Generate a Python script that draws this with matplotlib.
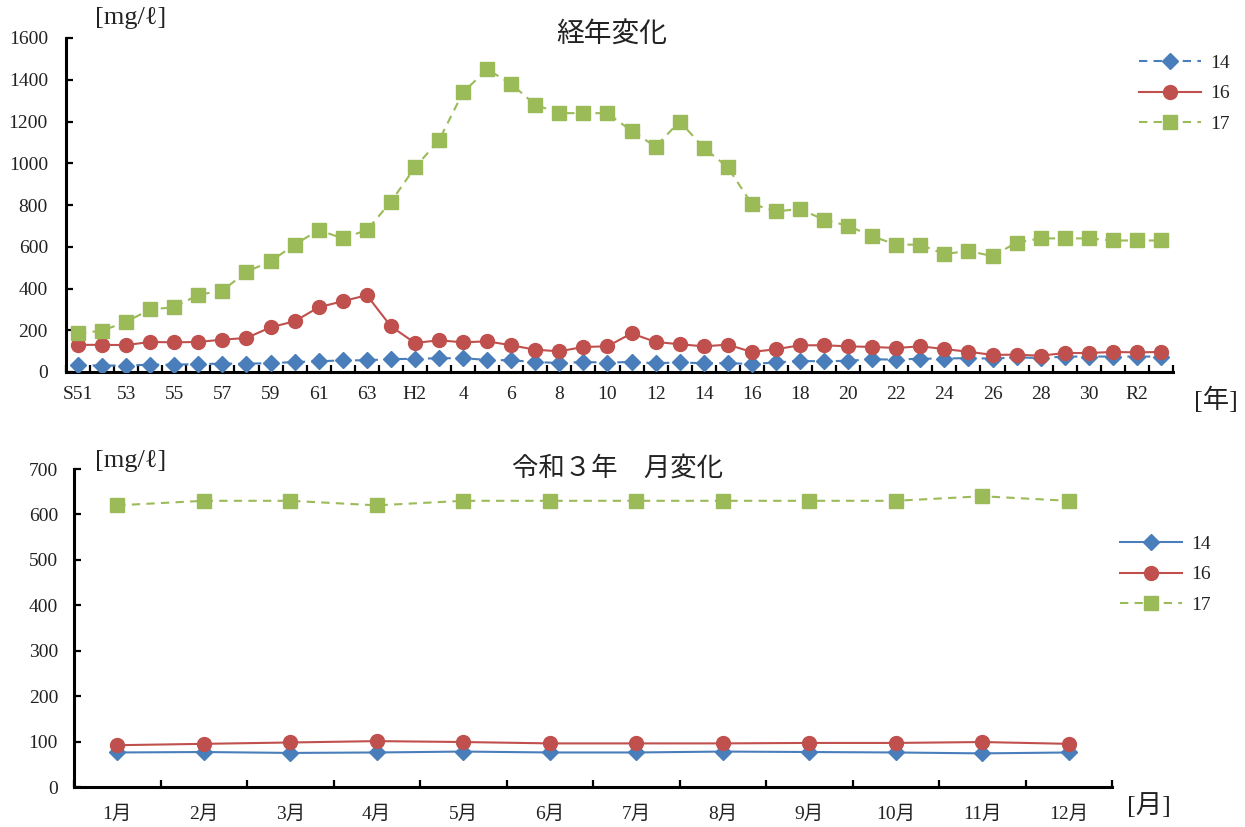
import matplotlib
matplotlib.use("Agg")
import matplotlib.pyplot as plt
from matplotlib.ticker import FixedLocator

plt.rcParams['font.family'] = ['Liberation Serif', 'DejaVu Serif', 'Noto Sans CJK JP']

# ---- annual data (S51 .. R3) ----
year_labels = ['S51', '53', '55', '57', '59', '61', '63', 'H2', '4', '6', '8', '10',
               '12', '14', '16', '18', '20', '22', '24', '26', '28', '30', 'R2']
years_s14 = [32, 31, 31, 35, 35, 38, 40, 40, 42, 48, 51, 56, 56, 62, 63, 66, 66, 58, 56, 48,
             43, 48, 45, 48, 42, 46, 42, 43, 38, 46, 53, 51, 54, 61, 59, 64, 64, 67, 64, 70,
             67, 74, 74, 74, 74, 74]
years_s16 = [130, 130, 129, 144, 142, 144, 155, 163, 214, 243, 310, 339, 368, 219, 139, 152,
             142, 147, 128, 107, 99, 120, 123, 185, 144, 133, 123, 131, 96, 109, 128, 128,
             123, 120, 115, 123, 110, 97, 82, 83, 78, 91, 91, 96, 94, 96]
years_s17 = [185, 198, 240, 300, 310, 370, 390, 480, 530, 610, 680, 640, 680, 815, 980, 1110,
             1340, 1450, 1380, 1280, 1240, 1240, 1240, 1155, 1080, 1200, 1075, 980, 805, 770,
             780, 730, 700, 650, 610, 610, 565, 580, 555, 620, 640, 640, 640, 630, 630, 630]

# ---- monthly data (R3) ----
months = ['1月', '2月', '3月', '4月', '5月', '6月', '7月', '8月', '9月', '10月', '11月', '12月']
month_s14 = [76, 77, 75, 76, 78, 76, 76, 78, 77, 76, 74, 76]
month_s16 = [92, 95, 98, 101, 99, 96, 96, 96, 97, 97, 99, 95]
month_s17 = [620, 630, 630, 620, 630, 630, 630, 630, 630, 630, 640, 630]
series_names = ['14', '16', '17']

BLUE = '#4A7EBB'
RED = '#C0504D'
GREEN = '#9BBB59'
TXT = '#222222'
MIXED = ['Liberation Serif', 'Noto Sans CJK JP']

W, H = 1245, 827
fig = plt.figure(figsize=(W / 100, H / 100), dpi=100)


def px_axes(left, top, right, bottom):
    return fig.add_axes([left / W, 1 - bottom / H, (right - left) / W, (bottom - top) / H])


def style_axes(ax, n):
    for s in ('top', 'right'):
        ax.spines[s].set_visible(False)
    for s in ('left', 'bottom'):
        ax.spines[s].set_linewidth(2.2)
        ax.spines[s].set_color('black')
    ax.set_xlim(-0.5, n - 0.5)
    ax.xaxis.set_minor_locator(FixedLocator([i - 0.5 for i in range(n + 1)]))
    ax.tick_params(axis='x', which='major', length=0, labelsize=14, labelcolor=TXT)
    ax.tick_params(axis='x', which='minor', direction='in', length=5, width=1.6, color='black')
    ax.tick_params(axis='y', direction='in', length=5, width=1.6, labelsize=14,
                   labelcolor=TXT, color='black')


def add_legend(ax, anchor):
    leg = ax.legend(loc='upper left', bbox_to_anchor=anchor, frameon=False,
                    fontsize=14, handlelength=3.2, labelspacing=0.68, handletextpad=0.45,
                    borderaxespad=0, borderpad=0)
    for t in leg.get_texts():
        t.set_color(TXT)
    return leg


# ---- upper chart: annual change ----
ax1 = px_axes(66, 38, 1173, 372)
n1 = len(years_s17)
x1 = list(range(n1))
ax1.plot(x1, years_s14, color=BLUE, lw=1.5, ls=(0, (4, 3)), marker='D', ms=8.5,
         mfc=BLUE, mec=BLUE, label=series_names[0], zorder=3)
ax1.plot(x1, years_s16, color=RED, lw=1.5, ls='-', marker='o', ms=10,
         mfc=RED, mec=RED, label=series_names[1], zorder=4)
ax1.plot(x1, years_s17, color=GREEN, lw=1.5, ls=(0, (4, 3)), marker='s', ms=10,
         mfc=GREEN, mec=GREEN, label=series_names[2], zorder=5)
ax1.set_ylim(0, 1600)
ax1.set_yticks(range(0, 1601, 200))
ax1.set_xticks(range(0, n1, 2))
ax1.set_xticklabels(year_labels)
style_axes(ax1, n1)
ax1.tick_params(axis='y', pad=13)
ax1.tick_params(axis='x', which='major', pad=10)
add_legend(ax1, ((1139 - 66) / 1107, (372 - 54) / 334))
fig.text(612 / W, 1 - 34 / H, '経年変化', fontsize=20, ha='center', va='center',
         color=TXT, family=['Noto Sans CJK JP'])
fig.text(131 / W, 1 - 18 / H, '[mg/ℓ]', fontsize=19, ha='center', va='center', color=TXT)
fig.text(1216 / W, 1 - 400 / H, '[年]', fontsize=19, ha='center', va='center', color=TXT,
         family=MIXED)

# ---- lower chart: monthly change ----
ax2 = px_axes(74, 469, 1112, 787)
n2 = len(months)
x2 = list(range(n2))
ax2.plot(x2, month_s14, color=BLUE, lw=1.5, ls='-', marker='D', ms=8.5,
         mfc=BLUE, mec=BLUE, label=series_names[0], zorder=3)
ax2.plot(x2, month_s16, color=RED, lw=1.5, ls='-', marker='o', ms=10,
         mfc=RED, mec=RED, label=series_names[1], zorder=4)
ax2.plot(x2, month_s17, color=GREEN, lw=1.5, ls=(0, (4, 3)), marker='s', ms=10,
         mfc=GREEN, mec=GREEN, label=series_names[2], zorder=5)
ax2.set_ylim(0, 700)
ax2.set_yticks(range(0, 701, 100))
ax2.set_xticks(x2)
ax2.set_xticklabels(months, family=MIXED)
style_axes(ax2, n2)
ax2.tick_params(axis='y', pad=11.5)
ax2.tick_params(axis='x', which='major', pad=13)
add_legend(ax2, ((1120 - 74) / 1038, (787 - 535) / 318))
fig.text(618 / W, 1 - 468 / H, '令和３年\u3000月変化', fontsize=19, ha='center', va='center',
         color=TXT, family=['Noto Sans CJK JP'])
fig.text(131 / W, 1 - 461 / H, '[mg/ℓ]', fontsize=19, ha='center', va='center', color=TXT)
fig.text(1149 / W, 1 - 806 / H, '[月]', fontsize=19, ha='center', va='center', color=TXT,
         family=MIXED)

fig.savefig('out.png', dpi=100, facecolor='white')
